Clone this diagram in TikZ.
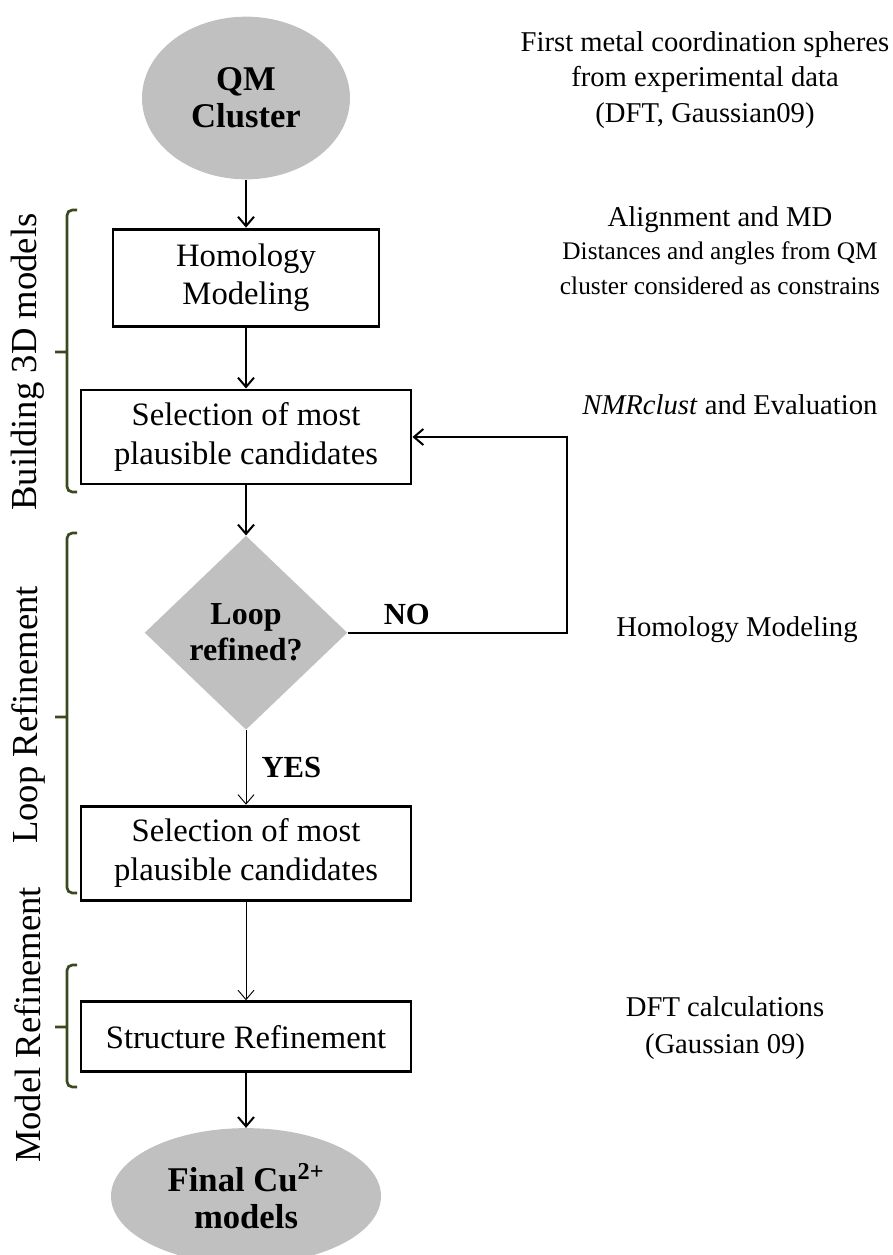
\documentclass[tikz,border=0pt]{standalone}
\usepackage{fontspec}
\setmainfont{Liberation Serif}
\usetikzlibrary{positioning,arrows.meta,shapes.geometric}
\definecolor{termGray}{HTML}{C0C0C0}
\definecolor{braceGreen}{HTML}{3B4A1E}
\newcommand{\smallnote}{\fontsize{19}{22.5}\selectfont}
\tikzset{
  node distance=40pt,
  proc/.style={draw=black, line width=2.2pt, fill=white, align=center, inner sep=2pt,
               font={\fontsize{24.5}{29}\selectfont}},
  term/.style={ellipse, fill=termGray, align=center, inner sep=0pt,
               font={\fontsize{26}{28}\selectfont\bfseries}},
  decide/.style={diamond, fill=termGray, align=center, inner sep=0pt,
                 font={\fontsize{24}{27}\selectfont\bfseries}},
  flow/.style={-{Straight Barb[length=7pt,width=12pt]}, line width=1.5pt},
  flowthin/.style={-{Straight Barb[length=7pt,width=12pt]}, line width=0.7pt},
  note/.style={align=center, font={\fontsize{21.5}{26.5}\selectfont}},
  stage/.style={rotate=90, font={\fontsize{27.5}{30}\selectfont}},
  brk/.style={draw=braceGreen, line width=2pt, rounded corners=4pt},
  lbl/.style={font={\fontsize{23}{26}\selectfont\bfseries}},
}
\begin{document}
\begin{tikzpicture}[x=0.75pt, y=-0.75pt]
  \useasboundingbox (0,0) rectangle (892,1255);
  % main flow
  \node[term, minimum width=156pt, minimum height=122pt] (qm) at (246,98) {QM\\Cluster};
  \node[proc, minimum width=199.5pt, minimum height=72.75pt, below=36pt of qm] (homol) {Homology\\Modeling};
  \node[proc, minimum width=247.5pt, minimum height=70.5pt, below=45.75pt of homol] (sel1) {Selection of most\\plausible candidates};
  \node[decide, minimum width=152pt, minimum height=145.5pt, below=37.5pt of sel1] (loop) {Loop\\refined?};
  \node[proc, minimum width=247.5pt, minimum height=70.5pt, below=56pt of loop] (sel2) {Selection of most\\plausible candidates};
  \node[proc, minimum width=247.5pt, minimum height=52.5pt, below=74pt of sel2] (refine) {Structure Refinement};
  \node[term, minimum width=202.5pt, minimum height=102pt, below=41pt of refine] (final) {Final Cu\textsuperscript{2+}\\models};
  \coordinate (back) at (567,0);

  \draw[flow] (qm) -- (homol);
  \draw[flow] (homol) -- (sel1);
  \draw[flow] (sel1) -- (loop);
  \draw[flow] (loop.east) -- node[lbl, above=2pt, pos=0.27] {NO} (loop.east -| back)
    -- (sel1.east -| back) -- (sel1.east);
  \draw[flowthin] (loop) -- node[lbl, right=8pt] {YES} (sel2);
  \draw[flowthin] (sel2) -- (refine);
  \draw[flow] (refine) -- (final);

  % stages on the left
  \foreach \top/\mid/\bot in {210/352/492, 533/717/893, 965/1027/1087}
    \draw[brk] (77,\top) -| (67,\bot) -- (77,\bot) (67,\mid) -- (55,\mid);
  \node[stage] (build) at (28,362) {Building 3D models};
  \node[stage] (looprf) at (28,715) {Loop Refinement};
  \node[stage] (modelrf) at (28,1025) {Model Refinement};

  % notes on the right
  \node[note] (nqm) at (705,80) {First metal coordination spheres\\from experimental data\\(DFT, Gaussian09)};
  \node[note] (nhom) at (720,251) {Alignment and MD\\[-2pt]
    \smallnote Distances and angles from QM\\\smallnote cluster considered as constrains};
  \node[note] (nsel) at (730,405) {\textit{NMRclust} and Evaluation};
  \node[note] (nloop) at (737,630) {Homology Modeling};
  \node[note, font={\fontsize{21.5}{27.75}\selectfont}] (ndft) at (725,1028) {DFT calculations\\(Gaussian 09)};
\end{tikzpicture}
\end{document}
